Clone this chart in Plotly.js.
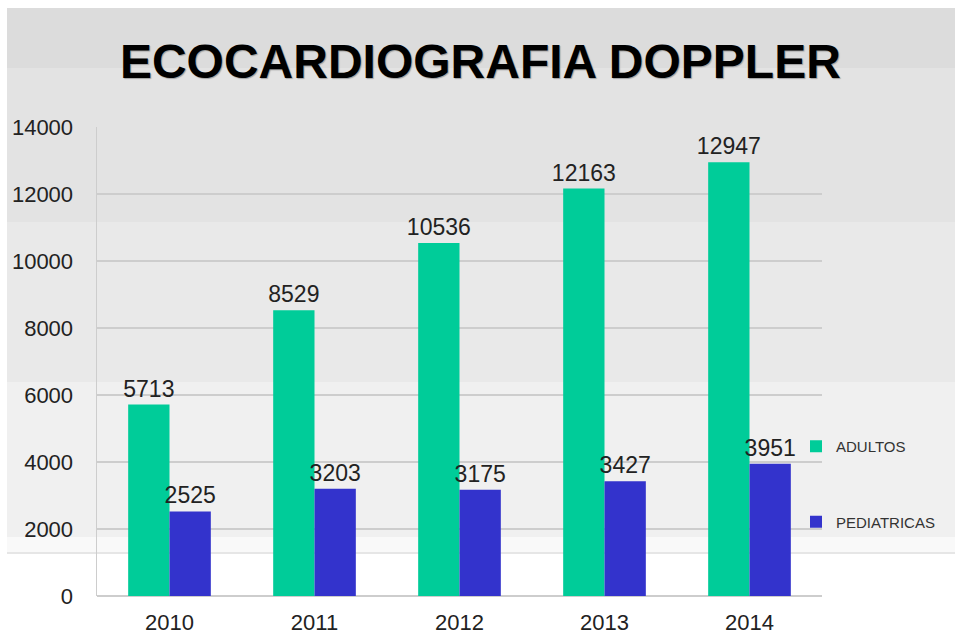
<!DOCTYPE html>
<html>
<head>
<meta charset="utf-8">
<script src="https://cdn.plot.ly/plotly-3.0.1.min.js"></script>
<style>
  html, body { margin: 0; padding: 0; background: #ffffff; }
  #chart { width: 955px; height: 636px; }
</style>
</head>
<body>
<div id="chart"></div>
<script>
const years = ['2010', '2011', '2012', '2013', '2014'];
const adultos = [5713, 8529, 10536, 12163, 12947];
const pediatricas = [2525, 3203, 3175, 3427, 3951];
const seriesNames = ['ADULTOS', 'PEDIATRICAS'];
const yTicks = [0, 2000, 4000, 6000, 8000, 10000, 12000, 14000];

const W = 955, H = 636;
const M = { l: 97, r: 133, t: 127, b: 40, autoexpand: false };
const PW = W - M.l - M.r, PH = H - M.t - M.b;
const px = v => (v - M.l) / PW;
const py = v => (H - M.b - v) / PH;

function band(y0, y1, color) {
  return { type: 'rect', xref: 'paper', yref: 'paper', layer: 'below',
    x0: px(7), x1: px(956), y0: py(y1), y1: py(y0),
    fillcolor: color, line: { width: 0 } };
}

const shapes = [
  band(8, 68, '#dcdcdc'),
  band(68, 222, '#e3e3e3'),
  band(222, 382, '#e9e9e9'),
  band(382, 537, '#f0f0f0'),
  band(537, 553, '#f9f9f9'),
  { type: 'line', xref: 'paper', yref: 'paper', layer: 'below',
    x0: px(7), x1: px(956), y0: py(553), y1: py(553),
    line: { color: '#e6e6e6', width: 2 } }
];

const fam = 'Liberation Sans, Arial, sans-serif';
const txtFont = { family: fam, size: 23, color: '#222222' };

const traces = [
  { type: 'bar', name: seriesNames[0], x: years, y: adultos, legendgroup: 'a',
    marker: { color: '#00CC99' }, text: adultos.map(String), textposition: 'outside',
    textfont: txtFont, constraintext: 'none', cliponaxis: false, hoverinfo: 'x+y' },
  { type: 'bar', name: seriesNames[1], x: years, y: pediatricas, legendgroup: 'b',
    marker: { color: '#3333CC' }, text: pediatricas.map(String), textposition: 'outside',
    textfont: txtFont, constraintext: 'none', cliponaxis: false, hoverinfo: 'x+y' }
];

const layout = {
  width: W, height: H,
  margin: M,
  paper_bgcolor: '#ffffff',
  plot_bgcolor: 'rgba(0,0,0,0)',
  barmode: 'group',
  bargap: 0.43,
  bargroupgap: 0,
  shapes: shapes,
  title: {
    text: 'ECOCARDIOGRAFIA DOPPLER',
    font: { family: fam, size: 48, color: '#000000',
            weight: 'bold', shadow: '1px 1px 1px #a0a0a0' },
    x: 0.503, xanchor: 'center', xref: 'container',
    y: 1 - 61 / H, yanchor: 'middle', yref: 'container'
  },
  xaxis: {
    type: 'category',
    showgrid: false,
    showline: false,
    zeroline: false,
    ticks: '',
    tickfont: { family: fam, size: 22, color: '#222222' },
    ticklabelstandoff: 11,
    automargin: false
  },
  yaxis: {
    range: [0, 14000],
    tickvals: yTicks,
    ticktext: yTicks.map(String),
    showgrid: true,
    gridcolor: '#cdcdcd',
    gridwidth: 1.5,
    showline: true,
    linecolor: '#cdcdcd',
    linewidth: 1.5,
    zeroline: true,
    zerolinecolor: '#cdcdcd',
    zerolinewidth: 1.5,
    ticks: '',
    tickfont: { family: fam, size: 22, color: '#222222' },
    ticklabelstandoff: 18,
    automargin: false
  },
  legend: {
    xref: 'container', yref: 'container',
    x: 796 / W, xanchor: 'left',
    y: 1 - 430 / H, yanchor: 'top',
    bgcolor: 'rgba(0,0,0,0)',
    font: { family: fam, size: 15, color: '#333333' },
    traceorder: 'grouped',
    tracegroupgap: 53,
    itemwidth: 30,
    itemsizing: 'constant'
  },
  showlegend: true
};

Plotly.newPlot('chart', traces, layout, { displayModeBar: false, staticPlot: true });
</script>
</body>
</html>
